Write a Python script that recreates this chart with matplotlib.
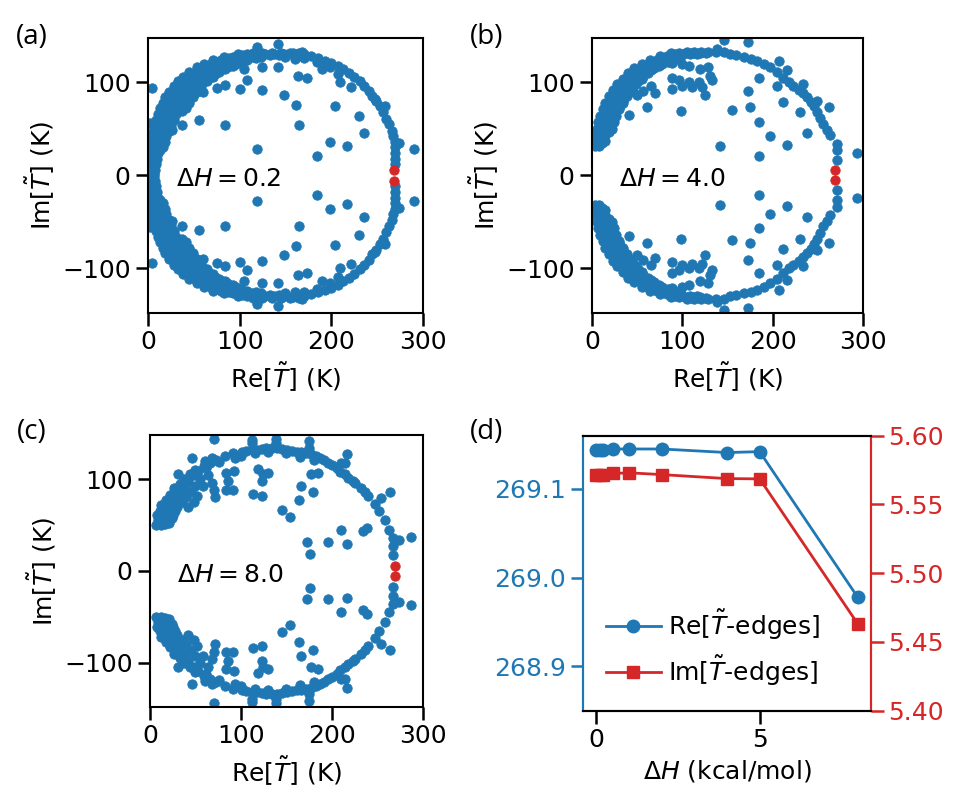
import numpy as np
import matplotlib.pyplot as plt

blue = '#1f77b4'
red = '#d62728'

# panel (d): Re / Im of the T-edge eigenvalue against dH
dH = [0.0, 0.1, 0.2, 0.5, 1.0, 2.0, 4.0, 5.0, 8.0]
re_edges = [269.144, 269.144, 269.144, 269.145, 269.145, 269.145, 269.141, 269.142, 268.978]
im_edges = [5.5715, 5.5715, 5.5715, 5.5725, 5.5730, 5.5717, 5.5688, 5.5686, 5.4633]

# spectra (Re, Im), upper half only - eigenvalues come in conjugate pairs
spec_a = [
    # band on the left
    (0, 1), (3, 1), (7, 1), (0, 6), (4, 6), (8, 6), (1, 12), (5, 12), (9, 12),
    (1, 18), (5, 18), (10, 18), (2, 24), (6, 24), (11, 24),
    (2, 30), (7, 30), (12, 30), (16, 30), (3, 36), (8, 36), (13, 36), (18, 36),
    (4, 42), (9, 42), (15, 42), (20, 42), (5, 48), (11, 48), (17, 48), (23, 48),
    (7, 54), (13, 54), (19, 54), (25, 54), (9, 60), (15, 60), (21, 60), (28, 60),
    (11, 66), (17, 66), (24, 66), (31, 66),
    (13, 72), (20, 72), (27, 72), (34, 72), (41, 72),
    (16, 78), (23, 78), (30, 78), (37, 78), (45, 78),
    (19, 84), (26, 84), (33, 84), (41, 84), (49, 84),
    (23, 90), (30, 90), (37, 90), (45, 90), (53, 90),
    (28, 96), (35, 96), (42, 96), (50, 96), (58, 96),
    (33, 101), (40, 101), (48, 101), (56, 101), (64, 101),
    (38, 106), (46, 106), (54, 106), (62, 106), (71, 106),
    (45, 111), (53, 111), (61, 111), (69, 111), (78, 111),
    (53, 116), (61, 116), (69, 116), (77, 116), (86, 116),
    (61, 120), (69, 120), (78, 120), (87, 120), (96, 120),
    (71, 124), (80, 124), (89, 124), (98, 124), (108, 124),
    (83, 127), (93, 127), (103, 127), (113, 127), (123, 127),
    (98, 130), (108, 130), (118, 130), (128, 130), (138, 130), (148, 130),
    (115, 132), (125, 132), (135, 132), (145, 132), (155, 132), (165, 132),
    (1, 3), (5, 3), (2, 9), (6, 9), (3, 15), (7, 15), (3, 21), (8, 21),
    (4, 27), (9, 27), (13, 27), (5, 33), (10, 33), (15, 33),
    (6, 39), (11, 39), (16, 39), (7, 45), (13, 45), (19, 45),
    (9, 51), (15, 51), (21, 51), (11, 57), (17, 57), (23, 57),
    (12, 63), (19, 63), (26, 63), (15, 69), (22, 69), (29, 69), (37, 69),
    (18, 75), (26, 75), (33, 75), (41, 75), (22, 81), (29, 81), (37, 81), (45, 81),
    (26, 87), (33, 87), (41, 87), (49, 87), (31, 93), (38, 93), (46, 93), (54, 93),
    (36, 99), (43, 99), (51, 99), (59, 99), (41, 104), (49, 104), (57, 104), (66, 104),
    (48, 109), (56, 109), (64, 109), (73, 109), (56, 114), (64, 114), (72, 114), (81, 114),
    (64, 118), (72, 118), (81, 118), (90, 118), (75, 122), (84, 122), (93, 122), (102, 122),
    (88, 126), (98, 126), (108, 126), (118, 126),
    (103, 129), (113, 129), (123, 129), (133, 129), (143, 129),
    # rim towards the right
    (150, 127), (160, 125), (170, 126), (185, 122),
    (158, 131), (170, 130), (178, 128), (186, 126), (193, 123), (200, 121),
    (207, 118), (213, 114), (219, 110), (225, 106), (231, 101), (236, 96),
    (241, 91), (245, 85), (249, 80), (253, 74), (257, 68), (260, 61),
    (263, 55), (266, 48), (268, 42), (270, 36), (270, 30), (270, 24),
    (270, 18), (270, 12),
    # scattered inside
    (4, 94), (2, 56), (26, 49), (37, 54), (56, 59), (84, 54), (60, 90),
    (75, 94), (84, 97), (100, 93), (124, 92), (108, 102), (105, 114),
    (124, 116), (142, 116), (164, 107), (174, 105), (149, 86), (162, 76),
    (165, 54), (119, 28), (184, 21), (142, 141), (119, 138), (168, 133),
    (190, 114), (199, 116), (208, 109), (210, 100), (204, 75), (230, 64),
    (236, 45), (199, 36), (217, 31), (248, 82), (259, 74), (274, 35),
    (291, 28), (222, 95), (84, 114), (93, 118),
]

spec_b = [
    # band on the left
    (3, 32), (8, 32), (4, 37), (9, 37), (14, 37), (5, 43), (10, 43), (15, 43),
    (6, 50), (11, 50), (17, 50), (22, 50), (7, 57), (13, 57), (19, 57), (24, 57),
    (9, 64), (15, 64), (21, 64), (27, 64), (12, 71), (18, 71), (24, 71), (30, 71),
    (15, 78), (21, 78), (28, 78), (34, 78), (19, 85), (25, 85), (32, 85), (39, 85),
    (23, 92), (30, 92), (37, 92), (44, 92), (28, 98), (35, 98), (42, 98), (49, 98),
    (34, 104), (41, 104), (48, 104), (55, 104), (40, 110), (47, 110), (54, 110),
    (62, 110), (47, 115), (54, 115), (61, 115), (69, 115),
    (55, 120), (62, 120), (70, 120), (78, 120), (64, 124), (72, 124), (80, 124),
    (88, 124), (75, 128), (83, 128), (91, 128), (99, 128),
    (88, 131), (96, 131), (104, 131), (112, 131), (120, 131),
    (105, 133), (113, 133), (121, 133), (129, 133), (137, 133),
    (6, 35), (11, 35), (7, 40), (12, 40), (8, 47), (13, 47), (19, 47),
    (10, 54), (16, 54), (21, 54), (11, 61), (17, 61), (23, 61),
    (14, 68), (20, 68), (27, 68), (17, 75), (24, 75), (31, 75),
    (21, 82), (28, 82), (35, 82), (26, 89), (33, 89), (40, 89),
    (31, 95), (38, 95), (45, 95), (37, 101), (44, 101), (51, 101),
    (43, 107), (50, 107), (57, 107), (50, 113), (57, 113), (65, 113),
    (58, 118), (66, 118), (74, 118), (68, 122), (76, 122), (84, 122),
    (79, 126), (87, 126), (95, 126), (92, 130), (100, 130), (108, 130), (116, 130),
    (110, 132), (118, 132), (126, 132),
    (57, 91), (65, 96), (50, 86),
    # rim towards the right
    (138, 136), (146, 133), (153, 130), (160, 129), (168, 127), (176, 125),
    (183, 123), (190, 120), (197, 116), (205, 111), (212, 105), (218, 100),
    (223, 96), (229, 92), (234, 88), (238, 84), (242, 79), (246, 74),
    (249, 68), (253, 62), (256, 55), (260, 49), (264, 43), (271, 34),
    (271, 27), (271, 16),
    # scattered inside
    (146, 145), (173, 143), (89, 121), (100, 120), (107, 118), (120, 114),
    (129, 116), (89, 105), (96, 102), (107, 100), (118, 100), (131, 107),
    (89, 93), (100, 96), (111, 95), (122, 95), (133, 102), (125, 86),
    (70, 89), (61, 73), (99, 69), (41, 65), (185, 105), (205, 96),
    (207, 123), (216, 113), (173, 91), (155, 70), (175, 73), (185, 57),
    (197, 42), (185, 21), (142, 32), (212, 79), (230, 68), (238, 45),
    (216, 33), (249, 80), (262, 73), (234, 98), (293, 24),
]

spec_c = [
    # cluster at the left end
    (7, 50), (12, 50), (17, 51), (9, 56), (14, 55), (20, 56), (24, 58),
    (8, 61), (13, 59), (18, 62), (23, 63), (11, 65), (16, 67), (21, 68),
    (26, 68), (15, 70), (20, 73), (29, 75), (24, 79), (27, 84), (33, 80),
    (35, 75), (40, 80), (45, 86), (50, 92), (42, 70), (48, 75), (55, 100),
    (58, 92), (52, 82),
    (10, 53), (15, 58), (19, 59), (25, 61), (28, 65), (30, 70), (18, 77),
    (22, 83), (30, 88), (26, 90), (33, 95), (37, 100), (44, 105), (50, 110),
    (30, 80), (38, 86), (60, 120), (68, 123), (12, 72), (16, 62), (21, 52),
    # rim
    (35, 88), (38, 93), (42, 98), (48, 104), (53, 109), (59, 114), (66, 118),
    (73, 121), (82, 125), (91, 128), (101, 130), (112, 132), (123, 133),
    (134, 134), (145, 133), (156, 131), (166, 129), (177, 127), (187, 123),
    (196, 118), (205, 112), (214, 105), (223, 98), (232, 90), (240, 82),
    (247, 73), (252, 65), (258, 56), (263, 45), (267, 36), (267, 27),
    (267, 17),
    (100, 125), (115, 128), (130, 129), (150, 128), (165, 124), (180, 121),
    (106, 131), (118, 132), (128, 134), (140, 134), (151, 132), (161, 130),
    (171, 128), (182, 125), (191, 121), (200, 115), (209, 108), (218, 101),
    # streaks off the rim
    (112, 143), (112, 139), (139, 144), (139, 139), (175, 141), (175, 134),
    (210, 118), (93, 123), (76, 119),
    # scattered inside
    (70, 144), (46, 123), (31, 105), (62, 112), (64, 104), (68, 96), (70, 88),
    (71, 80), (84, 107), (92, 109), (86, 98), (84, 88), (91, 88), (119, 111),
    (124, 105), (130, 107), (123, 98), (113, 84), (123, 82), (166, 93),
    (179, 86), (164, 77), (177, 105), (185, 107), (214, 118), (216, 127),
    (145, 66), (154, 59), (172, 31), (176, 18), (196, 31), (210, 45),
    (216, 29), (234, 43), (239, 47), (225, 96), (236, 86), (254, 79),
    (264, 86), (274, 34), (287, 37),
]

panels = [(spec_a, 2, '0.2'), (spec_b, 6, '4.0'), (spec_c, 8, '8.0')]

plt.rcParams['font.family'] = 'DejaVu Sans'
plt.rcParams['font.size'] = 18
plt.rcParams['axes.linewidth'] = 1.5


def style_ticks(ax):
    ax.tick_params(direction='out', length=9, width=1.8, labelsize=18)


def spectrum_plot(ax, pts, k, dh_text):
    pts = np.array(pts, dtype=float)
    re = np.concatenate([pts[:, 0], pts[:, 0]])
    im = np.concatenate([pts[:, 1], -pts[:, 1]])
    ax.scatter(re, im, s=46, color=blue, edgecolors=blue, linewidths=0.6, zorder=2)
    # the two T-edge eigenvalues
    ax.scatter([re_edges[k], re_edges[k]], [im_edges[k], -im_edges[k]],
               s=46, color=red, edgecolors=red, linewidths=0.6, zorder=3)
    ax.text(30, -4, r'$\Delta H = $' + dh_text, fontsize=18, va='center')
    ax.set_xlim(0, 300)
    ax.set_ylim(-148, 148)
    ax.set_xticks([0, 100, 200, 300])
    ax.set_yticks([-100, 0, 100])
    ax.set_xlabel(r'Re[$\tilde{T}$] (K)')
    ax.set_ylabel(r'Im[$\tilde{T}$] (K)')
    style_ticks(ax)


fig = plt.figure(figsize=(9.72, 8), dpi=100)

ax_a = fig.add_axes([0.1523, 0.6088, 0.2826, 0.3441])
ax_b = fig.add_axes([0.6090, 0.6088, 0.2788, 0.3441])
ax_c = fig.add_axes([0.1543, 0.1163, 0.2809, 0.3400])
ax_d = fig.add_axes([0.6001, 0.1116, 0.2957, 0.3438])

for ax, (pts, k, txt) in zip([ax_a, ax_b, ax_c], panels):
    spectrum_plot(ax, pts, k, txt)

# panel (d)
l1, = ax_d.plot(dH, re_edges, '-o', color=blue, lw=2, ms=9,
                label=r'Re[$\tilde{T}$-edges]')
ax_d.set_ylim(268.85, 269.16)
ax_d.set_yticks([268.9, 269.0, 269.1])
ax_d.set_xlim(-0.4, 8.4)
ax_d.set_xticks([0, 5])
ax_d.set_xlabel(r'$\Delta H$ (kcal/mol)')
style_ticks(ax_d)
ax_d.tick_params(axis='y', colors=blue)

ax2 = ax_d.twinx()
l2, = ax2.plot(dH, im_edges, '-s', color=red, lw=2, ms=9,
               label=r'Im[$\tilde{T}$-edges]')
ax2.set_ylim(5.40, 5.60)
ax2.set_yticks([5.40, 5.45, 5.50, 5.55, 5.60])
ax2.set_yticklabels(['5.40', '5.45', '5.50', '5.55', '5.60'])
style_ticks(ax2)
ax2.tick_params(axis='y', colors=red)

for a in (ax_d, ax2):
    a.spines['left'].set_color(blue)
    a.spines['right'].set_color(red)

ax2.legend(handles=[l1, l2], loc='lower left', frameon=False, fontsize=18,
           handlelength=2.2, handletextpad=0.3, numpoints=1, borderaxespad=0.5)

# panel letters
for txt, x, y in [('(a)', 0.033, 0.954), ('(b)', 0.501, 0.954),
                  ('(c)', 0.033, 0.460), ('(d)', 0.501, 0.460)]:
    fig.text(x, y, txt, fontsize=20, family='Open Sans', ha='center', va='center')

fig.savefig('out.png', dpi=100)
